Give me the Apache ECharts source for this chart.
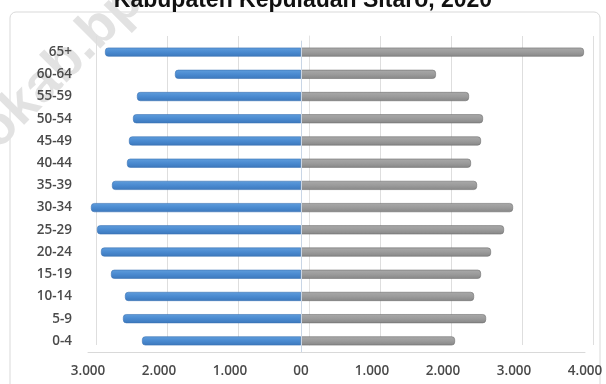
<!DOCTYPE html>
<html>
<head>
<meta charset="utf-8">
<script src="https://cdn.jsdelivr.net/npm/echarts@6/dist/echarts.min.js"></script>
<style>
  html, body { margin: 0; padding: 0; background: #fff; }
  #chart { width: 606px; height: 384px; }
</style>
</head>
<body>
<div id="chart"></div>
<script>
// Age groups, oldest at the top
const ageGroups = ['65+', '60-64', '55-59', '50-54', '45-49', '40-44', '35-39',
                   '30-34', '25-29', '20-24', '15-19', '10-14', '5-9', '0-4'];
// Left side (blue), population per age group
const leftValues = [2760, 1775, 2310, 2366, 2423, 2451, 2662,
                    2958, 2873, 2817, 2676, 2479, 2507, 2239];
// Right side (grey), population per age group
const rightValues = [3985, 1900, 2366, 2563, 2535, 2394, 2479,
                     2986, 2859, 2676, 2535, 2437, 2606, 2169];
// Tick labels along the value axis
const tickValues = [-3000, -2000, -1000, 0, 1000, 2000, 3000, 4000];
const tickLabels = ['3.000', '2.000', '1.000', '00', '1.000', '2.000', '3.000', '4.000'];

const labelFont = { fontFamily: 'Open Sans', fontSize: 13.5, color: '#4a4a4a', fontWeight: 600 };

const chart = echarts.init(document.getElementById('chart'), null, { renderer: 'canvas' });

chart.setOption({
  animation: false,
  backgroundColor: '#ffffff',
  title: {
    text: 'Kabupaten Kepulauan Sitaro, 2020',
    left: 'center',
    top: -16,
    textStyle: { fontFamily: 'Liberation Sans', fontWeight: 'bold', fontSize: 23, color: '#111' }
  },
  graphic: [
    {
      type: 'rect', z: -10,
      shape: { x: 10, y: 12, width: 590, height: 400, r: 6 },
      style: { fill: 'none', stroke: '#d9d9d9', lineWidth: 1 }
    },
    {
      type: 'text', z: -5,
      x: -74, y: 240, rotation: Math.PI * 0.25,
      style: {
        text: 'sitarokab.bps.go.id',
        fontFamily: 'Liberation Sans', fontWeight: 'bold', fontSize: 54,
        fill: '#e2e2e2', verticalAlign: 'bottom', align: 'left'
      }
    }
  ],
  grid: [
    // front plane: bars and labels
    { left: 88, right: 21, top: 41, bottom: 32 },
    // back wall: gridlines
    { left: 96, right: 13, top: 36, bottom: 39 }
  ],
  xAxis: [
    {
      gridIndex: 0, type: 'value', min: -3000, max: 4000, interval: 1000,
      axisLine: { show: true, lineStyle: { color: '#d9d9d9' } },
      axisTick: { show: false },
      splitLine: { show: false },
      axisLabel: {
        ...labelFont, margin: 12,
        formatter: v => tickLabels[tickValues.indexOf(Math.round(v))]
      }
    },
    {
      gridIndex: 1, type: 'value', min: -3000, max: 4000, interval: 1000,
      axisLine: { show: false }, axisTick: { show: false }, axisLabel: { show: false },
      splitLine: { show: true, lineStyle: { color: '#dedede', width: 1 } }
    }
  ],
  yAxis: [
    {
      gridIndex: 0, type: 'category', data: ageGroups, inverse: true,
      axisLine: { show: true, lineStyle: { color: '#d9d9d9' } },
      axisTick: { show: false },
      axisLabel: { ...labelFont, margin: 16 }
    },
    {
      gridIndex: 1, type: 'category', data: ageGroups, inverse: true,
      axisLine: { show: true, lineStyle: { color: '#e3e3e3' } },
      axisTick: { show: false }, axisLabel: { show: false }
    }
  ],
  series: [
    {
      type: 'bar', xAxisIndex: 0, yAxisIndex: 0,
      data: leftValues.map(v => -v),
      barWidth: 9, barGap: '-100%',
      itemStyle: {
        color: new echarts.graphic.LinearGradient(0, 0, 0, 1, [
          { offset: 0, color: '#5f9ddc' },
          { offset: 0.5, color: '#4a8ad0' },
          { offset: 1, color: '#3c78bc' }
        ]),
        borderColor: '#3a72b3', borderWidth: 0.6, borderRadius: [3, 0, 0, 3]
      }
    },
    {
      type: 'bar', xAxisIndex: 0, yAxisIndex: 0,
      data: rightValues,
      barWidth: 9, barGap: '-100%',
      itemStyle: {
        color: new echarts.graphic.LinearGradient(0, 0, 0, 1, [
          { offset: 0, color: '#a9a9a9' },
          { offset: 0.5, color: '#9b9b9b' },
          { offset: 1, color: '#878787' }
        ]),
        borderColor: '#6e6e6e', borderWidth: 0.6, borderRadius: [0, 3, 3, 0]
      }
    },
    {
      // zero line between the two sides
      type: 'line', xAxisIndex: 0, yAxisIndex: 0, data: [],
      markLine: {
        silent: true, symbol: 'none', label: { show: false },
        lineStyle: { color: '#c9d6e6', type: 'solid', width: 1 },
        data: [{ xAxis: 0 }]
      }
    }
  ]
});
</script>
</body>
</html>
